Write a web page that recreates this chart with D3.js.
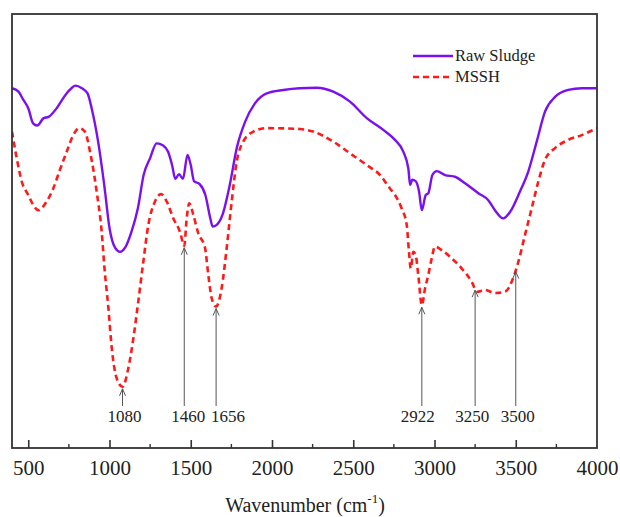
<!DOCTYPE html>
<html>
<head>
<meta charset="utf-8">
<script src="https://cdn.jsdelivr.net/npm/d3@7"></script>
<style>
  body { margin: 0; background: #fff; }
  text { font-family: "Liberation Serif", "Times New Roman", serif; fill: #222; }
</style>
</head>
<body>
<svg id="chart" width="620" height="517"></svg>
<script>
// Raw sludge spectrum: wavenumber (cm-1) and transmittance (a.u.)
const rawWave = [400, 440, 470, 500, 530, 555, 595, 625, 675, 715, 755, 790, 830, 865, 890, 930, 970, 1000,
  1035, 1065, 1095, 1135, 1175, 1210, 1250, 1290, 1330, 1360, 1385, 1405, 1428, 1452, 1480, 1500, 1520, 1555,
  1590, 1620, 1635, 1660, 1695, 1740, 1783, 1835, 1895, 1967, 2070, 2170, 2275, 2377, 2480, 2583, 2685, 2757,
  2808, 2839, 2850, 2863, 2884, 2905, 2922, 2946, 2962, 2987, 3014, 3065, 3126, 3188, 3270, 3331, 3372, 3423,
  3465, 3526, 3577, 3629, 3680, 3742, 3823, 3906, 4000];
const rawValue = [82.9, 82.1, 80.2, 78.3, 74.8, 74.3, 76.0, 76.3, 78.3, 80.6, 82.5, 83.5, 82.9, 81.7, 78.3, 70.6, 59.9, 50.7,
  46.1, 45.2, 46.1, 49.8, 55.3, 62.9, 66.8, 70.2, 69.7, 68.3, 65.2, 62.0, 63.1, 62.0, 67.5, 65.2, 61.5, 60.8,
  58.3, 53.0, 51.0, 51.4, 53.7, 60.6, 69.1, 75.2, 79.4, 81.7, 82.5, 82.9, 83.0, 82.1, 79.8, 76.0, 73.3, 71.0,
  68.3, 64.4, 60.6, 61.8, 61.5, 59.1, 54.8, 58.3, 58.7, 62.9, 63.8, 62.9, 62.5, 61.0, 58.7, 57.1, 54.8, 52.9,
  54.4, 59.1, 63.7, 70.6, 77.5, 80.9, 82.5, 82.9, 82.9];

// MSSH spectrum
const msshWave = [400, 429, 460, 500, 531, 562, 613, 654, 695, 737, 777, 814, 849, 880, 921, 952, 969, 993,
  1014, 1044, 1080, 1116, 1147, 1177, 1208, 1239, 1280, 1317, 1352, 1393, 1434, 1460, 1475, 1491, 1516, 1546,
  1588, 1608, 1629, 1656, 1690, 1721, 1752, 1783, 1823, 1885, 1967, 2172, 2254, 2377, 2480, 2583, 2665, 2726,
  2757, 2798, 2829, 2843, 2854, 2870, 2884, 2900, 2922, 2942, 2962, 2983, 3003, 3044, 3106, 3167, 3229, 3262,
  3311, 3372, 3434, 3475, 3516, 3557, 3598, 3639, 3680, 3742, 3823, 3906, 4000];
const msshValue = [72.9, 66.8, 61.4, 58.3, 56.0, 54.8, 56.8, 59.8, 64.1, 68.3, 72.1, 73.7, 72.9, 68.3, 59.1, 49.8, 41.5, 32.3,
  23.0, 16.1, 14.1, 18.4, 25.3, 33.7, 42.9, 51.4, 56.8, 58.5, 56.8, 52.9, 49.8, 46.6, 52.9, 56.4, 53.7, 49.5,
  46.1, 39.9, 34.5, 32.6, 36.8, 46.0, 56.8, 66.0, 70.6, 72.9, 73.7, 73.5, 72.9, 70.6, 67.9, 65.2, 62.9, 59.8,
  58.3, 55.2, 51.4, 45.2, 41.4, 45.2, 44.5, 39.9, 32.9, 36.8, 39.9, 43.7, 46.4, 45.6, 43.7, 41.4, 38.3, 36.0,
  36.4, 35.7, 36.0, 38.3, 42.9, 49.1, 55.2, 61.4, 66.4, 69.1, 71.0, 72.1, 73.7];

// Marked band positions
const peakLabels = [1080, 1460, 1656, 2922, 3250, 3500];

const xTicks = [500, 1000, 1500, 2000, 2500, 3000, 3500, 4000];
const seriesNames = ["Raw Sludge", "MSSH"];

const svg = d3.select("#chart");
const m = {left: 12, right: 597, top: 14, bottom: 448};

const x = d3.scaleLinear().domain([400, 4000]).range([m.left, m.right]);
const y = d3.scaleLinear().domain([0, 100]).range([m.bottom, m.top]);

const raw = rawWave.map((w, i) => ({w: w, v: rawValue[i]}));
const mssh = msshWave.map((w, i) => ({w: w, v: msshValue[i]}));

const line = d3.line()
    .x(d => x(d.w))
    .y(d => y(d.v))
    .curve(d3.curveMonotoneX);

svg.append("defs").append("clipPath").attr("id", "plot")
  .append("rect").attr("x", m.left).attr("y", m.top)
  .attr("width", m.right - m.left).attr("height", m.bottom - m.top);

const plot = svg.append("g").attr("clip-path", "url(#plot)");

plot.append("path")
    .datum(mssh)
    .attr("d", line)
    .attr("fill", "none")
    .attr("stroke", "#ff1a1a")
    .attr("stroke-width", 2.6)
    .attr("stroke-dasharray", "6,4");

plot.append("path")
    .datum(raw)
    .attr("d", line)
    .attr("fill", "none")
    .attr("stroke", "#7a10f0")
    .attr("stroke-width", 2.4);

// Annotations: arrow from label up to MSSH curve
const bis = d3.bisector(d => d.w).left;
function msshAt(w) {
    const i = bis(mssh, w);
    if (i <= 0) return mssh[0].v;
    const a = mssh[i - 1], b = mssh[i];
    return a.v + (b.v - a.v) * (w - a.w) / (b.w - a.w);
}

// small horizontal nudges so neighbouring labels don't collide
const labelNudge = {1080: 2, 1460: 4, 1656: 12, 2922: -4, 3250: -3, 3500: 2};

const ann = svg.append("g");
peakLabels.forEach(p => {
    const px = x(p);
    const tip = y(msshAt(p)) + 2;
    ann.append("line")
        .attr("x1", px).attr("x2", px)
        .attr("y1", tip).attr("y2", 406)
        .attr("stroke", "#555").attr("stroke-width", 1);
    ann.append("path")
        .attr("d", `M${px - 3},${tip + 7}L${px},${tip}L${px + 3},${tip + 7}`)
        .attr("fill", "none").attr("stroke", "#555").attr("stroke-width", 1);
    ann.append("text")
        .attr("x", px + labelNudge[p]).attr("y", 422)
        .attr("text-anchor", "middle")
        .attr("font-size", 17)
        .text(p);
});

// Frame
svg.append("rect")
    .attr("x", m.left).attr("y", m.top)
    .attr("width", m.right - m.left).attr("height", m.bottom - m.top)
    .attr("fill", "none").attr("stroke", "#333").attr("stroke-width", 1.8);

// Bottom axis, ticks inside
const axis = svg.append("g").attr("transform", `translate(0,${m.bottom})`);
axis.call(d3.axisBottom(x).tickValues(xTicks).tickSize(-8).tickPadding(0).tickFormat(d3.format("d")));
axis.select(".domain").remove();
axis.selectAll(".tick line").attr("stroke", "#333").attr("stroke-width", 1.6);
axis.selectAll(".tick text")
    .attr("y", 27)
    .attr("dy", 0)
    .attr("font-size", 21)
    .attr("fill", "#222");
axis.selectAll(".tick").filter(d => d === 4000).select("line").remove();

const minorTicks = d3.range(750, 4000, 500);
axis.selectAll(".minor")
    .data(minorTicks)
    .join("line")
    .attr("class", "minor")
    .attr("x1", d => x(d)).attr("x2", d => x(d))
    .attr("y1", 0).attr("y2", -4)
    .attr("stroke", "#333").attr("stroke-width", 1.4);

// Axis title
const title = svg.append("text")
    .attr("x", 305).attr("y", 512)
    .attr("text-anchor", "middle")
    .attr("font-size", 20);
title.append("tspan").text("Wavenumber (cm");
title.append("tspan").attr("font-size", 13).attr("dy", -9).text("-1");
title.append("tspan").attr("dy", 9).text(")");

// Legend
const legend = svg.append("g");
const styles = [
    {stroke: "#7a10f0", dash: null, w: 2.4},
    {stroke: "#ff1a1a", dash: "6,4", w: 2.6}
];
seriesNames.forEach((name, i) => {
    const ly = 56 + i * 21;
    legend.append("line")
        .attr("x1", 413).attr("x2", 453)
        .attr("y1", ly).attr("y2", ly)
        .attr("stroke", styles[i].stroke)
        .attr("stroke-width", styles[i].w)
        .attr("stroke-dasharray", styles[i].dash);
    legend.append("text")
        .attr("x", 455).attr("y", ly + 5)
        .attr("font-size", 16.5)
        .text(name);
});
</script>
</body>
</html>
